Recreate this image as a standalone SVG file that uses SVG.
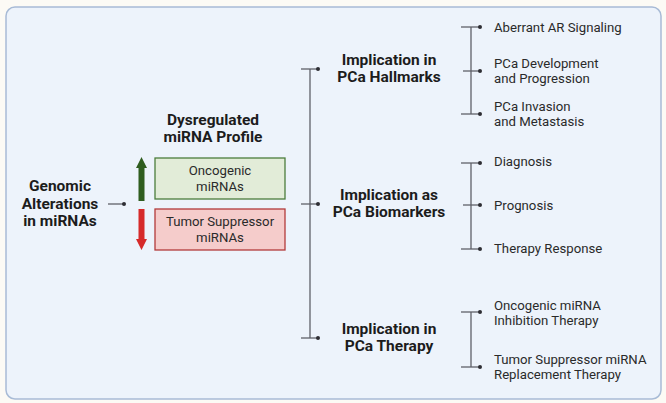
<svg xmlns="http://www.w3.org/2000/svg" width="666" height="403" viewBox="0 0 666 403">
<style>
.h{font-family:Roboto,"Liberation Sans",sans-serif;font-weight:bold;font-size:15.5px;fill:#1c1c1c;text-anchor:middle}
.t{font-family:Roboto,"Liberation Sans",sans-serif;font-size:13.2px;fill:#2a2a2a}
.b{font-family:Roboto,"Liberation Sans",sans-serif;font-size:13.2px;fill:#2a2a2a;text-anchor:middle}
.ln{stroke:#5f6068;stroke-width:1.3;fill:none}
.dot{fill:#2d2d33}
</style>
<rect x="0" y="0" width="666" height="403" fill="#fcfaf5"/>
<rect x="6" y="7" width="655" height="392" rx="9" fill="#edf3fb" stroke="#a8bbd6" stroke-width="1.5"/>

<g id="connectors">
  <line class="ln" x1="108" y1="204" x2="124" y2="204"/>
  <circle class="dot" cx="124" cy="204" r="2"/>
  <line class="ln" x1="310" y1="69" x2="310" y2="338"/>
  <line class="ln" x1="301" y1="69" x2="318" y2="69"/>
  <line class="ln" x1="301" y1="204" x2="318" y2="204"/>
  <line class="ln" x1="301" y1="338" x2="318" y2="338"/>
  <circle class="dot" cx="318" cy="69" r="2"/>
  <circle class="dot" cx="318" cy="204" r="2"/>
  <circle class="dot" cx="318" cy="338" r="2"/>
  <line class="ln" x1="471" y1="27" x2="471" y2="114"/>
  <line class="ln" x1="461" y1="27" x2="480" y2="27"/>
  <line class="ln" x1="463" y1="71" x2="480" y2="71"/>
  <line class="ln" x1="461" y1="114" x2="480" y2="114"/>
  <circle class="dot" cx="480" cy="27" r="2"/>
  <circle class="dot" cx="480" cy="71" r="2"/>
  <circle class="dot" cx="480" cy="114" r="2"/>
  <line class="ln" x1="471" y1="163" x2="471" y2="249"/>
  <line class="ln" x1="461" y1="163" x2="480" y2="163"/>
  <line class="ln" x1="463" y1="205" x2="480" y2="205"/>
  <line class="ln" x1="461" y1="249" x2="480" y2="249"/>
  <circle class="dot" cx="480" cy="163" r="2"/>
  <circle class="dot" cx="480" cy="205" r="2"/>
  <circle class="dot" cx="480" cy="249" r="2"/>
  <line class="ln" x1="471" y1="312" x2="471" y2="367"/>
  <line class="ln" x1="461" y1="312" x2="480" y2="312"/>
  <line class="ln" x1="461" y1="367" x2="480" y2="367"/>
  <circle class="dot" cx="480" cy="312" r="2"/>
  <circle class="dot" cx="480" cy="367" r="2"/>
</g>

<g id="genomic">
  <text class="h" x="60" y="191">Genomic</text>
  <text class="h" x="60" y="208.5">Alterations</text>
  <text class="h" x="60" y="226">in miRNAs</text>
</g>

<g id="dysregulated">
  <text class="h" x="213" y="125">Dysregulated</text>
  <text class="h" x="213" y="142">miRNA Profile</text>
</g>

<g id="up-arrow">
  <polygon points="141.5,157 147,168 144.5,168 144.5,201 138.5,201 138.5,168 136,168" fill="#2f5d1f"/>
</g>
<g id="down-arrow">
  <polygon points="141.5,250 147,239 144.5,239 144.5,209 138.5,209 138.5,239 136,239" fill="#d62a2a"/>
</g>

<g id="oncogenic">
  <rect x="155" y="158" width="130" height="41" fill="#e2ecd8" stroke="#4c7d3c" stroke-width="1.3"/>
  <text class="b" x="220" y="175">Oncogenic</text>
  <text class="b" x="220" y="191">miRNAs</text>
</g>
<g id="tumor-suppressor">
  <rect x="155" y="209" width="130" height="41" fill="#f5cccb" stroke="#b23b3b" stroke-width="1.3"/>
  <text class="b" x="220" y="226">Tumor Suppressor</text>
  <text class="b" x="220" y="242">miRNAs</text>
</g>

<g id="hallmarks">
  <text class="h" x="389" y="65">Implication in</text>
  <text class="h" x="389" y="82">PCa Hallmarks</text>
</g>
<g id="biomarkers">
  <text class="h" x="389" y="200">Implication as</text>
  <text class="h" x="389" y="217">PCa Biomarkers</text>
</g>
<g id="therapy">
  <text class="h" x="389" y="334">Implication in</text>
  <text class="h" x="389" y="351">PCa Therapy</text>
</g>

<g id="ar-signaling"><text class="t" x="494" y="32">Aberrant AR Signaling</text></g>
<g id="development"><text class="t" x="494" y="68">PCa Development</text><text class="t" x="494" y="83">and Progression</text></g>
<g id="invasion"><text class="t" x="494" y="111">PCa Invasion</text><text class="t" x="494" y="126">and Metastasis</text></g>
<g id="diagnosis"><text class="t" x="494" y="166">Diagnosis</text></g>
<g id="prognosis"><text class="t" x="494" y="209.5">Prognosis</text></g>
<g id="therapy-response"><text class="t" x="494" y="253">Therapy Response</text></g>
<g id="inhibition"><text class="t" x="494" y="310">Oncogenic miRNA</text><text class="t" x="494" y="325">Inhibition Therapy</text></g>
<g id="replacement"><text class="t" x="494" y="364">Tumor Suppressor miRNA</text><text class="t" x="494" y="379">Replacement Therapy</text></g>
</svg>
